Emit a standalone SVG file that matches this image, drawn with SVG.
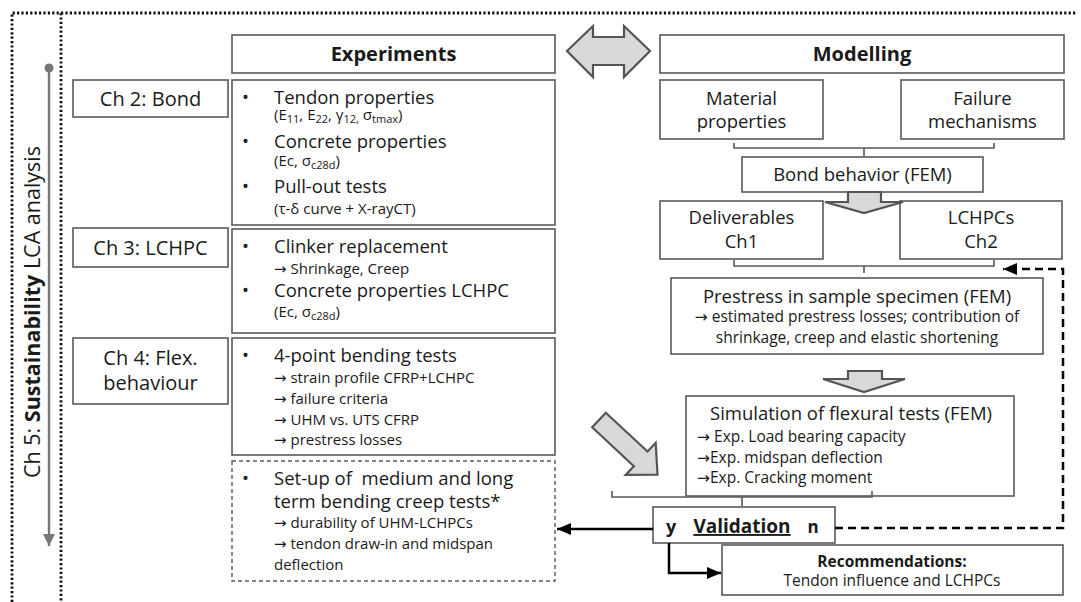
<svg xmlns="http://www.w3.org/2000/svg" width="1081" height="602" viewBox="0 0 1081 602">
<style>
text { font-family: "Open Sans", "Liberation Sans", "DejaVu Sans", sans-serif; fill: #1a1a1a; }
.ar { font-family: "DejaVu Sans", sans-serif; }
.box { fill: #fff; stroke: #595959; stroke-width: 1.6; }
.dbox { fill: #fff; stroke: #595959; stroke-width: 1.4; stroke-dasharray: 4 3; }
.blk { fill: #d9d9d9; stroke: #555; stroke-width: 2.2; stroke-linejoin: miter; }
.brace { fill: none; stroke: #595959; stroke-width: 1.6; }
.frame { fill: none; stroke: #111; stroke-width: 2.8; stroke-dasharray: 2.2 2.2; }
.h { font-size: 20px; font-weight: bold; }
.ch { font-size: 20px; }
.b { font-size: 18.5px; }
.s { font-size: 15px; }
.sub { font-size: 11px; }
.m { font-size: 18.5px; }
.ms { font-size: 15.5px; }
.c { text-anchor: middle; }
</style>
<defs>
<marker id="ah" markerUnits="userSpaceOnUse" markerWidth="16" markerHeight="14" refX="14" refY="7" orient="auto">
<path d="M0,1 L14,7 L0,13 Z" fill="#000"/>
</marker>
<marker id="ahg" markerUnits="userSpaceOnUse" markerWidth="14" markerHeight="14" refX="12" refY="7" orient="auto">
<path d="M0,1 L12,7 L0,13 Z" fill="#777"/>
</marker>
</defs>
<rect width="1081" height="602" fill="#fff"/>

<g id="frame">
<path class="frame" d="M12,602 V13 H1077"/>
<path class="frame" d="M61,13 V602"/>
</g>

<g id="ch5">
<circle cx="49" cy="68" r="4.5" fill="#777"/>
<line x1="49" y1="68" x2="49" y2="546" stroke="#777" stroke-width="2.4" marker-end="url(#ahg)"/>
<text transform="translate(40,312) rotate(-90)" class="c" font-size="21.5">Ch 5: <tspan font-weight="bold">Sustainability</tspan> LCA analysis</text>
</g>

<g id="exp-header">
<rect class="box" x="232" y="35" width="323" height="38"/>
<text class="h c" x="393.5" y="61">Experiments</text>
</g>
<g id="mod-header">
<rect class="box" x="660" y="35" width="404" height="38"/>
<text class="h c" x="862" y="61">Modelling</text>
</g>
<g id="double-arrow">
<polygon class="blk" points="567,51 593,26 593,37 624,37 624,26 650,51 624,77 624,65 593,65 593,77"/>
</g>

<g id="ch2">
<rect class="box" x="73" y="80" width="155" height="37"/>
<text class="ch c" x="150.5" y="106">Ch 2: Bond</text>
</g>
<g id="ch3">
<rect class="box" x="73" y="228" width="155" height="39"/>
<text class="ch c" x="150.5" y="255">Ch 3: LCHPC</text>
</g>
<g id="ch4">
<rect class="box" x="73" y="338" width="155" height="66"/>
<text class="ch c" x="150.5" y="365">Ch 4: Flex.</text>
<text class="ch c" x="150.5" y="390">behaviour</text>
</g>

<g id="exp-bond">
<rect class="box" x="232" y="80" width="323" height="145"/>
<text class="b" x="242" y="104">•</text>
<text class="b" x="274" y="104">Tendon properties</text>
<text class="s" x="274" y="120">(E<tspan class="sub" baseline-shift="-3">11</tspan>, E<tspan class="sub" baseline-shift="-3">22</tspan>, γ<tspan class="sub" baseline-shift="-3">12,</tspan> σ<tspan class="sub" baseline-shift="-3">tmax</tspan>)</text>
<text class="b" x="242" y="148">•</text>
<text class="b" x="274" y="148">Concrete properties</text>
<text class="s" x="274" y="166">(Ec, σ<tspan class="sub" baseline-shift="-3">c28d</tspan>)</text>
<text class="b" x="242" y="193">•</text>
<text class="b" x="274" y="193">Pull-out tests</text>
<text class="s" x="274" y="214">(τ-δ curve + X-rayCT)</text>
</g>

<g id="exp-lchpc">
<rect class="box" x="232" y="229" width="323" height="104"/>
<text class="b" x="242" y="253">•</text>
<text class="b" x="274" y="253">Clinker replacement</text>
<text class="s" x="274" y="274"><tspan class="ar">→</tspan> Shrinkage, Creep</text>
<text class="b" x="242" y="297">•</text>
<text class="b" x="274" y="297">Concrete properties LCHPC</text>
<text class="s" x="274" y="317">(Ec, σ<tspan class="sub" baseline-shift="-3">c28d</tspan>)</text>
</g>

<g id="exp-flex">
<rect class="box" x="232" y="338" width="323" height="117"/>
<text class="b" x="242" y="362">•</text>
<text class="b" x="274" y="362">4-point bending tests</text>
<text class="s" x="274" y="383"><tspan class="ar">→</tspan> strain profile CFRP+LCHPC</text>
<text class="s" x="274" y="404"><tspan class="ar">→</tspan> failure criteria</text>
<text class="s" x="274" y="425"><tspan class="ar">→</tspan> UHM vs. UTS CFRP</text>
<text class="s" x="274" y="445"><tspan class="ar">→</tspan> prestress losses</text>
</g>

<g id="exp-creep">
<rect class="dbox" x="232" y="461" width="323" height="120"/>
<text class="b" x="242" y="485">•</text>
<text class="b" x="274" y="485" xml:space="preserve">Set-up of  medium and long</text>
<text class="b" x="274" y="508">term bending creep tests*</text>
<text class="s" x="274" y="528"><tspan class="ar">→</tspan> durability of UHM-LCHPCs</text>
<text class="s" x="274" y="549"><tspan class="ar">→</tspan> tendon draw-in and midspan</text>
<text class="s" x="274" y="570">deflection</text>
</g>

<g id="material">
<rect class="box" x="660" y="80" width="163" height="59"/>
<text class="m c" x="741.5" y="105">Material</text>
<text class="m c" x="741.5" y="128">properties</text>
</g>
<g id="failure">
<rect class="box" x="901" y="80" width="163" height="59"/>
<text class="m c" x="982.5" y="105">Failure</text>
<text class="m c" x="982.5" y="128">mechanisms</text>
</g>
<g id="bond-fem">
<rect class="box" x="742" y="157" width="241" height="35"/>
<text class="m c" x="862.5" y="181">Bond behavior (FEM)</text>
</g>
<g id="deliverables">
<rect class="box" x="660" y="201" width="163" height="58"/>
<text class="m c" x="741.5" y="224">Deliverables</text>
<text class="m c" x="741.5" y="248">Ch1</text>
</g>
<g id="lchpcs">
<rect class="box" x="900" y="201" width="162" height="58"/>
<text class="m c" x="981" y="224">LCHPCs</text>
<text class="m c" x="981" y="248">Ch2</text>
</g>
<g id="prestress">
<rect class="box" x="671" y="278" width="372" height="76"/>
<text class="m c" x="857" y="303">Prestress in sample specimen (FEM)</text>
<text class="ms c" x="857" y="322"><tspan class="ar">→</tspan> estimated prestress losses; contribution of</text>
<text class="ms c" x="857" y="343">shrinkage, creep and elastic shortening</text>
</g>
<g id="simulation">
<rect class="box" x="686" y="396" width="328" height="100"/>
<text class="m c" x="851" y="420">Simulation of flexural tests (FEM)</text>
<text class="ms" x="697" y="442"><tspan class="ar">→</tspan> Exp. Load bearing capacity</text>
<text class="ms" x="697" y="463"><tspan class="ar">→</tspan>Exp. midspan deflection</text>
<text class="ms" x="697" y="483"><tspan class="ar">→</tspan>Exp. Cracking moment</text>
</g>
<g id="validation">
<rect class="box" x="653" y="507" width="182" height="36"/>
<text x="671" y="533" font-size="18" font-weight="bold" class="c">y</text>
<text x="742" y="533" font-size="19" font-weight="bold" class="c" text-decoration="underline">Validation</text>
<text x="813" y="533" font-size="17" font-weight="bold" class="c">n</text>
</g>
<g id="recommendations">
<rect class="box" x="722" y="545" width="341" height="50"/>
<text class="c" x="892" y="567" font-size="15.5" font-weight="bold">Recommendations:</text>
<text class="c" x="892" y="586" font-size="15.5">Tendon influence and LCHPCs</text>
</g>

<g id="connectors">
<path class="brace" d="M734,143 V148 H994 V143 M864,148 V156"/>
<path class="brace" d="M734,260 V266 H994 V260 M864,266 V273"/>
<path class="brace" d="M612,491 V497 H872 V491 M742,497 V506"/>
<polygon class="blk" points="848,192 881,192 881,202 903,202 864,213 825,202 848,202"/>
<polygon class="blk" points="848,371 882,371 882,379 905,379 864,392 823,379 848,379"/>
<polygon class="blk" transform="translate(599,420) rotate(43)" points="0,-10 57,-10 57,-22 80,0 57,22 57,10 0,10"/>
<line x1="653" y1="529" x2="557" y2="529" stroke="#000" stroke-width="2.5" marker-end="url(#ah)"/>
<path d="M669,543 V573 H721" fill="none" stroke="#000" stroke-width="2.5" marker-end="url(#ah)"/>
<path d="M835,528 H1063 V269 H1003" fill="none" stroke="#000" stroke-width="2.5" stroke-dasharray="8 5" marker-end="url(#ah)"/>
</g>
</svg>
